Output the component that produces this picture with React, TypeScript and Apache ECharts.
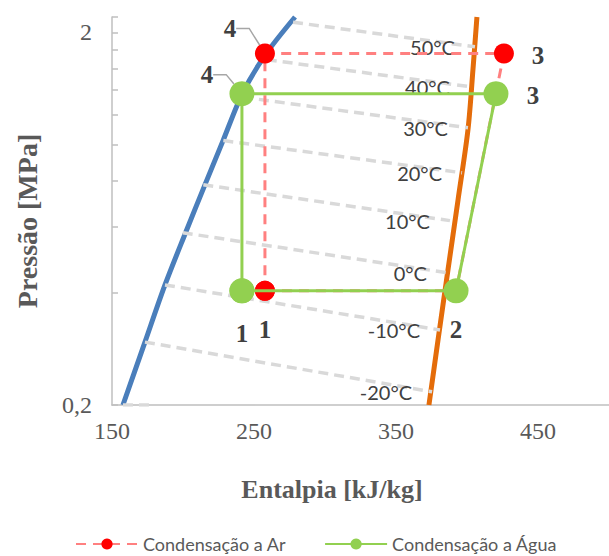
import { useEffect, useRef } from 'react';
import * as echarts from 'echarts';

// Saturated liquid line [h kJ/kg, p MPa]
const liquidLine: [number, number][] = [
  [157.7, 0.2], [173.2, 0.295], [187.3, 0.42], [201.8, 0.58], [215.5, 0.781],
  [228.2, 1.025], [241.8, 1.371], [258.2, 1.746], [278.9, 2.2],
];
// Saturated vapour line
const vaporLine: [number, number][] = [
  [373.2, 0.2], [379.6, 0.299], [386.6, 0.461], [393.7, 0.711], [400.7, 1.098], [404.2, 1.59], [407, 2.2],
];
// Isotherms
const isoTemps = ['50°C', '40°C', '30°C', '20°C', '10°C', '0°C', '-10°C', '-20°C', ''];
const isoStart: [number, number][] = [
  [277.5, 2.13], [259, 1.69], [242.3, 1.34], [228.4, 1.025], [214.3, 0.78], [199.8, 0.58], [187.3, 0.42], [173.2, 0.295], [157.7, 0.2],
];
const isoEnd: [number, number][] = [
  [405.6, 1.83], [402.1, 1.43], [400.7, 1.11], [396.5, 0.84], [388.0, 0.625], [385.9, 0.453], [381.0, 0.318], [375.4, 0.217], [176.8, 0.2],
];
// Cycles (points 1, 2, 3, 4, back to 1)
const airCycle: [number, number][] = [[257.7, 0.405], [392.3, 0.405], [426, 1.756], [257.7, 1.756], [257.7, 0.405]];
const airLabels = ['1', '', '3', '4', ''];
const waterCycle: [number, number][] = [[241.5, 0.405], [392.3, 0.405], [420.4, 1.37], [241.5, 1.37], [241.5, 0.405]];
const waterLabels = ['1', '2', '3', '4', ''];
// Axes
const yLabelValues = [0.2, 2];
const yTickValues = [0.2, 0.4, 0.6, 0.8, 1.0, 1.2, 1.4, 1.6, 1.8, 2.0, 2.2];

const SERIF = "'Liberation Serif', 'Times New Roman', serif";
const SANS = "Lato, 'Open Sans', sans-serif";
const AXIS_COLOR = '#bfbfbf';

const airOffsets: Record<number, [number, number]> = { 0: [0, 39], 2: [34, 2], 3: [-35, -25] };
const waterOffsets: Record<number, [number, number]> = { 0: [0, 43], 1: [0, 39], 2: [37, 2], 3: [-35, -19] };

function cycleData(points: [number, number][], labels: string[]) {
  return points.map((pt, i) => ({
    value: pt,
    label: { show: labels[i] !== '', formatter: labels[i] },
    labelLine: { show: labels[i] === '4' },
  }));
}

function cycleLayout(offsets: Record<number, [number, number]>) {
  return (params: any) => {
    const off = offsets[params.dataIndex];
    if (!off) return {};
    const cx = params.rect.x + params.rect.width / 2;
    const cy = params.rect.y + params.rect.height / 2;
    return { x: cx + off[0], y: cy + off[1], align: 'center', verticalAlign: 'middle' };
  };
}

export default function App() {
  const ref = useRef<HTMLDivElement>(null);
  useEffect(() => {
    if (!ref.current) return;
    const chart = echarts.init(ref.current, null, { renderer: 'svg' });

    const isoSeries = isoTemps.map((t, i) => ({
      type: 'line',
      name: 'iso' + i,
      data: [
        { value: isoStart[i] },
        { value: isoEnd[i], label: { show: t !== '', formatter: t } },
      ],
      showSymbol: true,
      symbol: 'circle',
      symbolSize: 0,
      itemStyle: { color: 'transparent', borderWidth: 0 },
      lineStyle: { color: '#d9d9d9', width: 3.5, type: [10, 6] },
      label: {
        show: false,
        position: 'left',
        distance: 20,
        fontFamily: SANS,
        fontSize: 20,
        color: '#404040',
      },
      silent: true,
      z: 3,
    }));

    const labelStyle = {
      position: 'inside',
      fontFamily: SERIF,
      fontWeight: 'bold',
      fontSize: 25,
      color: '#404040',
    };

    chart.setOption({
      animation: false,
      grid: { left: 112, right: 0, top: 17, bottom: 151, containLabel: false },
      xAxis: {
        type: 'value',
        min: 150,
        max: 500,
        interval: 100,
        axisLine: { show: true, lineStyle: { color: AXIS_COLOR, width: 1.5 } },
        axisTick: { show: false },
        splitLine: { show: false },
        axisLabel: { fontFamily: SERIF, fontSize: 24, color: '#595959', margin: 14, showMaxLabel: false },
      },
      yAxis: {
        type: 'log',
        logBase: 10,
        min: 0.2,
        max: 2.2,
        axisLine: { show: true, lineStyle: { color: AXIS_COLOR, width: 1.5 } },
        axisTick: { show: true, inside: true, length: 6, customValues: yTickValues, lineStyle: { color: AXIS_COLOR, width: 1.5 } },
        minorTick: { show: false },
        splitLine: { show: false },
        axisLabel: {
          customValues: yLabelValues,
          fontFamily: SERIF,
          fontSize: 24,
          color: '#595959',
          margin: 20,
          formatter: (v: number) => String(Math.round(v * 10) / 10).replace('.', ','),
        },
      },
      legend: {
        data: ['Condensação a Ar', 'Condensação a Água'],
        left: 75,
        top: 535,
        padding: 0,
        itemWidth: 62,
        itemHeight: 14,
        itemGap: 38,
        textStyle: { fontFamily: SANS, fontSize: 18, color: '#595959' },
      },
      graphic: [
        {
          type: 'text',
          x: 27,
          y: 221,
          rotation: Math.PI / 2,
          style: {
            text: 'Pressão [MPa]',
            fontFamily: SERIF,
            fontWeight: 'bold',
            fontSize: 28,
            fill: '#595959',
            align: 'center',
            verticalAlign: 'middle',
          },
        },
        {
          type: 'text',
          x: 332,
          y: 489,
          style: {
            text: 'Entalpia [kJ/kg]',
            fontFamily: SERIF,
            fontWeight: 'bold',
            fontSize: 26,
            fill: '#595959',
            align: 'center',
            verticalAlign: 'middle',
          },
        },
      ],
      series: [
        {
          type: 'line',
          name: 'liquid',
          data: liquidLine,
          smooth: 0.3,
          showSymbol: false,
          lineStyle: { color: '#4a7ebb', width: 5 },
          silent: true,
          z: 2,
        },
        {
          type: 'line',
          name: 'vapor',
          data: vaporLine,
          smooth: 0.3,
          showSymbol: false,
          lineStyle: { color: '#e46c0a', width: 5 },
          silent: true,
          z: 2,
        },
        ...isoSeries,
        {
          type: 'line',
          name: 'Condensação a Ar',
          data: cycleData(airCycle, airLabels),
          symbol: 'circle',
          symbolSize: 20,
          showSymbol: true,
          itemStyle: { color: '#ff0000' },
          lineStyle: { color: '#ff8080', width: 3, type: [10, 7] },
          label: labelStyle,
          labelLine: { show: false, length2: 13, lineStyle: { color: '#a6a6a6', width: 1.5 } },
          labelLayout: cycleLayout(airOffsets),
          z: 4,
        },
        {
          type: 'line',
          name: 'Condensação a Água',
          data: cycleData(waterCycle, waterLabels),
          symbol: 'circle',
          symbolSize: 25,
          showSymbol: true,
          itemStyle: { color: '#92d050' },
          lineStyle: { color: '#92d050', width: 3 },
          label: labelStyle,
          labelLine: { show: false, length2: 13, lineStyle: { color: '#a6a6a6', width: 1.5 } },
          labelLayout: cycleLayout(waterOffsets),
          z: 5,
        },
      ],
    });
    return () => chart.dispose();
  }, []);
  return <div ref={ref} style={{ width: 609, height: 556, position: 'absolute', left: 0, top: 0 }} />;
}
